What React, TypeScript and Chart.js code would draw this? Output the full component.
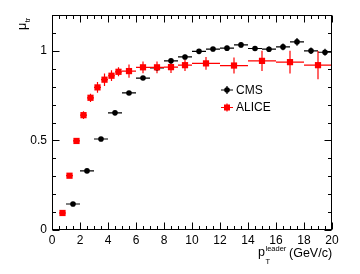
import React, { useEffect, useRef } from 'react';
import { Chart, registerables } from 'chart.js';

Chart.register(...registerables);

// ---- data ----
const cmsX = [1.5, 2.5, 3.5, 4.5, 5.5, 6.5, 7.5, 8.5, 9.5, 10.5, 11.5, 12.5, 13.5, 14.5, 15.5, 16.5, 17.5, 18.5, 19.5];
const cmsXErr = [0.5, 0.5, 0.5, 0.5, 0.5, 0.5, 0.5, 0.5, 0.5, 0.5, 0.5, 0.5, 0.5, 0.5, 0.5, 0.5, 0.5, 0.5, 0.5];
const cmsY = [0.145, 0.33, 0.508, 0.654, 0.765, 0.848, 0.905, 0.944, 0.966, 0.997, 1.01, 1.015, 1.033, 1.013, 1.009, 1.022, 1.05, 1.0, 0.992];
const cmsYErr = [0.008, 0.008, 0.008, 0.008, 0.008, 0.009, 0.01, 0.012, 0.012, 0.012, 0.012, 0.013, 0.014, 0.014, 0.015, 0.019, 0.022, 0.018, 0.02];

const aliceX = [0.75, 1.25, 1.75, 2.25, 2.75, 3.25, 3.75, 4.25, 4.75, 5.5, 6.5, 7.5, 8.5, 9.5, 11, 13, 15, 17, 19];
const aliceXErr = [0.25, 0.25, 0.25, 0.25, 0.25, 0.25, 0.25, 0.25, 0.25, 0.5, 0.5, 0.5, 0.5, 0.5, 1, 1, 1, 1, 1];
const aliceY = [0.095, 0.303, 0.497, 0.641, 0.738, 0.796, 0.839, 0.861, 0.883, 0.887, 0.908, 0.908, 0.909, 0.92, 0.93, 0.918, 0.944, 0.937, 0.92];
const aliceYErr = [0.006, 0.008, 0.015, 0.022, 0.023, 0.03, 0.035, 0.03, 0.025, 0.037, 0.033, 0.033, 0.033, 0.033, 0.035, 0.045, 0.056, 0.064, 0.079];

const xTickValues = [0, 2, 4, 6, 8, 10, 12, 14, 16, 18, 20];
const yTickValues = [0, 0.5, 1];
const legendLabels = ['CMS', 'ALICE'];
const cmsColor = '#000000';
const aliceColor = '#ff0000';

const FONT = '"Liberation Sans", Arial, Helvetica, sans-serif';

const rootPlugin = {
  id: 'rootStyle',
  beforeDatasetsDraw(chart: any) {
    const { ctx, scales } = chart;
    const xs = scales.x, ys = scales.y;
    const drawBars = (X: number[], XE: number[], Y: number[], YE: number[], color: string) => {
      ctx.save();
      ctx.strokeStyle = color;
      ctx.lineWidth = 1.2;
      for (let i = 0; i < X.length; i++) {
        const px = xs.getPixelForValue(X[i]);
        const py = ys.getPixelForValue(Y[i]);
        const x0 = xs.getPixelForValue(X[i] - XE[i]);
        const x1 = xs.getPixelForValue(X[i] + XE[i]);
        const y0 = ys.getPixelForValue(Y[i] - YE[i]);
        const y1 = ys.getPixelForValue(Y[i] + YE[i]);
        ctx.beginPath();
        ctx.moveTo(x0, py);
        ctx.lineTo(x1, py);
        ctx.moveTo(px, y0);
        ctx.lineTo(px, y1);
        ctx.stroke();
      }
      ctx.restore();
    };
    drawBars(cmsX, cmsXErr, cmsY, cmsYErr, cmsColor);
    drawBars(aliceX, aliceXErr, aliceY, aliceYErr, aliceColor);
  },
  afterDraw(chart: any) {
    const { ctx, chartArea, scales } = chart;
    const xs = scales.x, ys = scales.y;
    const L = Math.round(chartArea.left) + 0.5;
    const R = Math.round(chartArea.right) - 0.5;
    const T = Math.round(chartArea.top) + 0.5;
    const B = Math.round(chartArea.bottom) - 0.5;
    ctx.save();
    ctx.strokeStyle = '#000';
    ctx.lineWidth = 1;
    ctx.strokeRect(L, T, R - L, B - T);
    ctx.beginPath();
    // x ticks
    for (let v = 0; v <= 20.0001; v += 0.5) {
      const major = Math.abs(v / 2 - Math.round(v / 2)) < 1e-6;
      const len = major ? 7 : 3.5;
      const px = Math.round(xs.getPixelForValue(v)) + 0.5;
      ctx.moveTo(px, B);
      ctx.lineTo(px, B - len);
      ctx.moveTo(px, T);
      ctx.lineTo(px, T + len);
    }
    // y ticks
    for (let k = 0; k <= 12; k++) {
      const v = k / 10;
      const major = k % 5 === 0;
      const len = major ? 7 : 3.5;
      const py = Math.round(ys.getPixelForValue(v)) + 0.5;
      ctx.moveTo(L, py);
      ctx.lineTo(L + len, py);
      ctx.moveTo(R, py);
      ctx.lineTo(R - len, py);
    }
    ctx.stroke();

    // legend
    const entries = [
      { label: legendLabels[0], color: cmsColor, shape: 'circle', y: 90 },
      { label: legendLabels[1], color: aliceColor, shape: 'square', y: 107.5 },
    ];
    entries.forEach((e) => {
      const cx = 227;
      ctx.strokeStyle = e.color;
      ctx.fillStyle = e.color;
      ctx.lineWidth = 1.2;
      ctx.beginPath();
      ctx.moveTo(cx - 6, e.y);
      ctx.lineTo(cx + 6, e.y);
      ctx.moveTo(cx, e.y - 4);
      ctx.lineTo(cx, e.y + 4);
      ctx.stroke();
      ctx.beginPath();
      if (e.shape === 'circle') {
        ctx.arc(cx, e.y, 2.8, 0, Math.PI * 2);
        ctx.fill();
      } else {
        ctx.fillRect(cx - 3, e.y - 3, 6, 6);
      }
      ctx.fillStyle = '#000';
      ctx.font = `12px ${FONT}`;
      ctx.textAlign = 'left';
      ctx.textBaseline = 'middle';
      ctx.fillText(e.label, 236, e.y + 0.5);
    });

    // x title
    ctx.fillStyle = '#000';
    ctx.textBaseline = 'alphabetic';
    ctx.textAlign = 'left';
    ctx.font = `12.5px ${FONT}`;
    ctx.fillText('p', 258, 256);
    ctx.font = `7.5px ${FONT}`;
    ctx.fillText('T', 265.5, 263.5);
    ctx.fillText('leader', 265.5, 251);
    ctx.font = `12.5px ${FONT}`;
    ctx.fillText('(GeV/c)', 289, 257);

    // y title
    ctx.save();
    ctx.translate(26, 30);
    ctx.rotate(-Math.PI / 2);
    ctx.font = `12.5px ${FONT}`;
    ctx.fillText('\u03bc', 0, 0);
    const w = ctx.measureText('\u03bc').width;
    ctx.font = `7.5px ${FONT}`;
    ctx.fillText('tr', w + 0.5, 3.5);
    ctx.restore();

    ctx.restore();
  },
};

export default function App() {
  const ref = useRef<HTMLCanvasElement | null>(null);
  useEffect(() => {
    document.body.style.margin = '0';
    if (!ref.current) return;
    const chart = new Chart(ref.current, {
      type: 'scatter',
      data: {
        datasets: [
          {
            label: legendLabels[1],
            data: aliceX.map((x, i) => ({ x, y: aliceY[i] })),
            pointStyle: 'rect',
            pointRadius: 4.4,
            backgroundColor: aliceColor,
            borderColor: aliceColor,
            borderWidth: 0,
            showLine: false,
          },
          {
            label: legendLabels[0],
            data: cmsX.map((x, i) => ({ x, y: cmsY[i] })),
            pointStyle: 'circle',
            pointRadius: 2.8,
            backgroundColor: cmsColor,
            borderColor: cmsColor,
            borderWidth: 0,
            showLine: false,
          },
        ],
      },
      options: {
        responsive: false,
        animation: false,
        events: [],
        layout: { padding: { left: 0, right: 28, top: 15, bottom: 0 } },
        plugins: { legend: { display: false }, tooltip: { enabled: false }, title: { display: false } },
        scales: {
          x: {
            type: 'linear',
            min: 0,
            max: 20,
            afterFit: (s: any) => { s.height = 44; },
            afterBuildTicks: (s: any) => { s.ticks = xTickValues.map((v) => ({ value: v })); },
            grid: { display: false, drawTicks: false },
            border: { display: false },
            ticks: {
              padding: 3,
              color: '#000',
              font: { family: FONT, size: 12 },
              maxRotation: 0,
              autoSkip: false,
              callback: (v: any) => String(v),
            },
          },
          y: {
            type: 'linear',
            min: 0,
            max: 1.2,
            afterFit: (s: any) => { s.width = 52; },
            afterBuildTicks: (s: any) => { s.ticks = yTickValues.map((v) => ({ value: v })); },
            grid: { display: false, drawTicks: false },
            border: { display: false },
            ticks: {
              padding: 5,
              color: '#000',
              font: { family: FONT, size: 12 },
              autoSkip: false,
              callback: (v: any) => String(v),
            },
          },
        },
      },
      plugins: [rootPlugin],
    });
    return () => chart.destroy();
  }, []);
  return (
    <div style={{ width: 360, height: 274, background: '#fff' }}>
      <canvas ref={ref} width={360} height={274} style={{ display: 'block' }} />
    </div>
  );
}
